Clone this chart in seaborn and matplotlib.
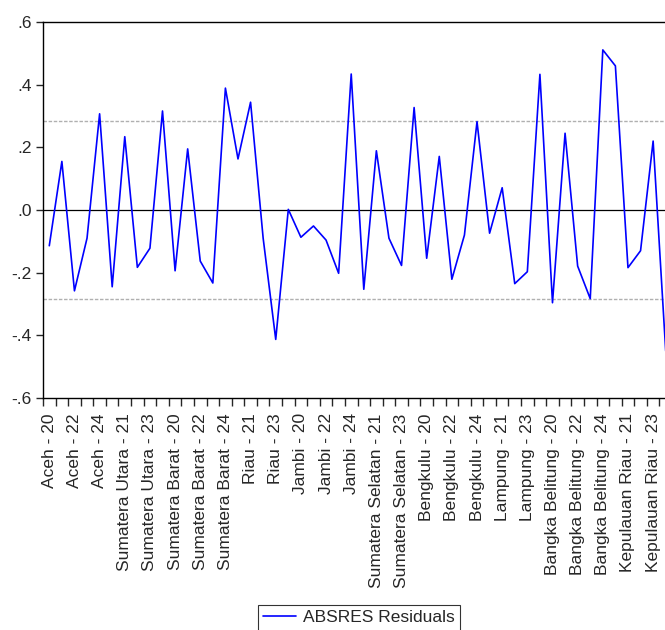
import numpy as np
import pandas as pd
import matplotlib
matplotlib.use("Agg")
import matplotlib.pyplot as plt
import seaborn as sns

# provinces and years (2020-2024) of the panel
provinces = ["Aceh", "Sumatera Utara", "Sumatera Barat", "Riau", "Jambi",
             "Sumatera Selatan", "Bengkulu", "Lampung", "Bangka Belitung",
             "Kepulauan Riau"]
years = ["20", "21", "22", "23", "24"]

# residuals
residuals = [-0.114, 0.155, -0.258, -0.090, 0.307,
             -0.245, 0.234, -0.183, -0.122, 0.316,
             -0.194, 0.195, -0.163, -0.233, 0.389,
             0.163, 0.344, -0.090, -0.413, 0.002,
             -0.087, -0.051, -0.096, -0.202, 0.434,
             -0.253, 0.189, -0.090, -0.177, 0.327,
             -0.154, 0.171, -0.221, -0.080, 0.282,
             -0.074, 0.071, -0.235, -0.197, 0.433,
             -0.296, 0.245, -0.179, -0.283, 0.511,
             0.460, -0.184, -0.130, 0.220, -0.450]
se_band = 0.283

obs = [f"{p} - {y}" for p in provinces for y in years]
df = pd.DataFrame({"obs": np.arange(len(obs)), "resid": residuals})

sns.set_style("ticks")
plt.rcParams["font.family"] = ["Liberation Sans", "DejaVu Sans"]
fs = 12.5

fig = plt.figure(figsize=(6.65, 6.3), dpi=100)
ax = fig.add_axes([43 / 665, 232 / 630, 629 / 665, 376 / 630])

ax.axhline(0, color="black", lw=0.9, zorder=1)
ax.axhline(se_band, color="#b0b0b0", lw=1.0, ls=(0, (2.5, 1.2)), zorder=1)
ax.axhline(-se_band, color="#b0b0b0", lw=1.0, ls=(0, (2.5, 1.2)), zorder=1)
sns.lineplot(data=df, x="obs", y="resid", color="#0000ff", lw=1.2, ax=ax,
             label="ABSRES Residuals", legend=False, zorder=3)

ax.set_xlim(-0.5, len(obs) - 0.5)
ax.set_ylim(-0.6, 0.6)
yt = [-0.6, -0.4, -0.2, 0.0, 0.2, 0.4, 0.6]
ax.set_yticks(yt)
ax.set_yticklabels([("-" if v < 0 else "") + f"{abs(v):.1f}".lstrip("0") for v in yt],
                   fontsize=fs)
ax.set_xticks(np.arange(0, len(obs), 2))
ax.set_xticklabels(obs[::2], rotation=90, fontsize=fs)
ax.set_xticks(np.arange(-0.5, len(obs), 1), minor=True)
ax.tick_params(axis="x", which="major", length=0, pad=11)
ax.tick_params(axis="x", which="minor", length=5.5, width=1, direction="out")
ax.tick_params(axis="y", length=5, width=1, direction="out", pad=3)
ax.set_xlabel("")
ax.set_ylabel("")
for s in ax.spines.values():
    s.set_linewidth(1)
    s.set_color("black")

h, l = ax.get_legend_handles_labels()
leg = fig.legend(h, l, loc="upper center", bbox_to_anchor=(359 / 665, 1 - 605 / 630),
                 fontsize=fs, frameon=True, fancybox=False, handlelength=1.9,
                 handletextpad=0.4, borderpad=0.3, borderaxespad=0)
leg.get_frame().set_edgecolor("black")
leg.get_frame().set_linewidth(0.8)

fig.savefig("out.png", dpi=100)
